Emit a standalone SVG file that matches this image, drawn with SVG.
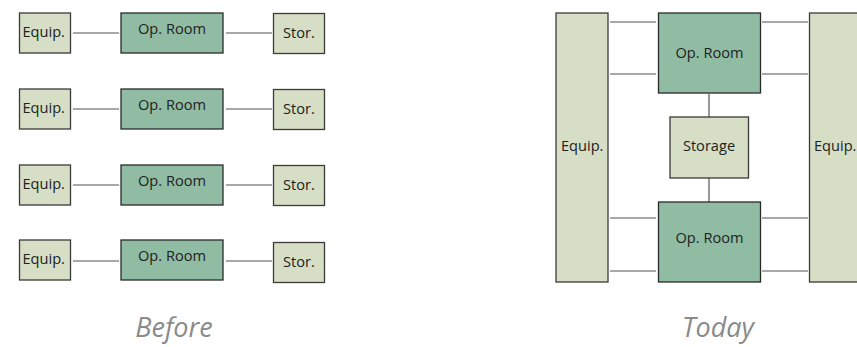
<svg xmlns="http://www.w3.org/2000/svg" width="857" height="347" viewBox="0 0 857 347">
<style>
.eq{fill:#d6dec5;stroke:#3a3a3a;stroke-width:1.3}
.op{fill:#8fbca2;stroke:#2a2a2a;stroke-width:1.3}
.ln{stroke:#555;stroke-width:1.2;fill:none}
text{font-family:"Open Sans","Liberation Sans",sans-serif;font-size:14.6px;fill:#222}
.c{text-anchor:middle}
.cap{font-size:27px;font-style:italic;fill:#8a8a8a;text-anchor:middle}
</style>
<g id="connectors">
<path class="ln" d="M73 33H119M226 33H272M73 109H119M226 109H272M73 185H119M226 185H272M73 261H119M226 261H272"/>
<path class="ln" d="M610 22H656M762 22H808M610 74H656M762 74H808M610 218H656M762 218H808M610 271H656M762 271H808M709 94V117M709 178V202"/>
</g>
<g id="b-equip1"><rect class="eq" x="19.5" y="13" width="51" height="40"/><text x="22.5" y="36.5">Equip.</text></g>
<g id="b-op1"><rect class="op" x="121" y="13" width="102" height="40"/><text class="c" x="172" y="33.5">Op. Room</text></g>
<g id="b-stor1"><rect class="eq" x="273.5" y="13.5" width="51" height="40"/><text class="c" x="299" y="37.5">Stor.</text></g>
<g id="b-equip2"><rect class="eq" x="19.5" y="89" width="51" height="40"/><text x="22.5" y="112.5">Equip.</text></g>
<g id="b-op2"><rect class="op" x="121" y="89" width="102" height="40"/><text class="c" x="172" y="109.5">Op. Room</text></g>
<g id="b-stor2"><rect class="eq" x="273.5" y="89.5" width="51" height="40"/><text class="c" x="299" y="113.5">Stor.</text></g>
<g id="b-equip3"><rect class="eq" x="19.5" y="165" width="51" height="40"/><text x="22.5" y="188.5">Equip.</text></g>
<g id="b-op3"><rect class="op" x="121" y="165" width="102" height="40"/><text class="c" x="172" y="185.5">Op. Room</text></g>
<g id="b-stor3"><rect class="eq" x="273.5" y="165.5" width="51" height="40"/><text class="c" x="299" y="189.5">Stor.</text></g>
<g id="b-equip4"><rect class="eq" x="19.5" y="240" width="51" height="40"/><text x="22.5" y="263.5">Equip.</text></g>
<g id="b-op4"><rect class="op" x="121" y="240" width="102" height="40"/><text class="c" x="172" y="260.5">Op. Room</text></g>
<g id="b-stor4"><rect class="eq" x="273.5" y="242.5" width="51" height="40"/><text class="c" x="299" y="266.5">Stor.</text></g>
<g id="t-equip-left"><rect class="eq" x="556" y="13" width="52" height="269"/><text x="561" y="150.5">Equip.</text></g>
<g id="t-op-top"><rect class="op" x="658.5" y="13" width="102" height="80"/><text class="c" x="709.5" y="57.5">Op. Room</text></g>
<g id="t-storage"><rect class="eq" x="670" y="117" width="78.5" height="61"/><text class="c" x="709" y="150.5">Storage</text></g>
<g id="t-op-bottom"><rect class="op" x="658.5" y="202" width="102" height="80"/><text class="c" x="709.5" y="242.5">Op. Room</text></g>
<g id="t-equip-right"><rect class="eq" x="809.5" y="13" width="60" height="269"/><text x="814" y="150.5">Equip.</text></g>
<text class="cap" x="174" y="337">Before</text>
<text class="cap" x="718" y="337">Today</text>
</svg>
